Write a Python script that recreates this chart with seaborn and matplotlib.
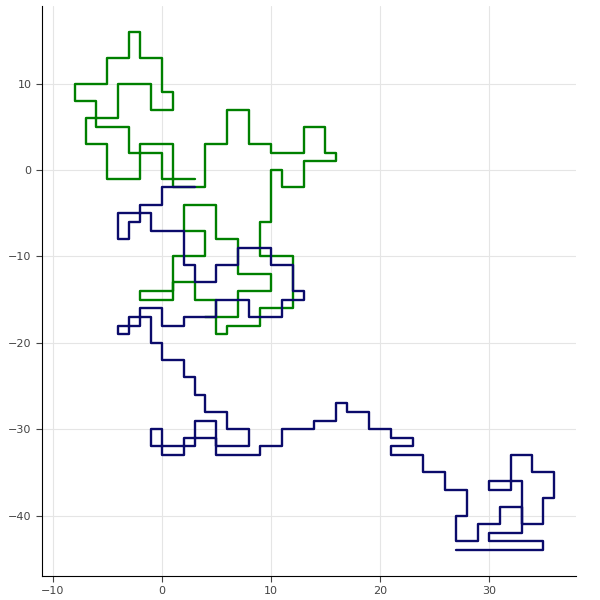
import matplotlib
matplotlib.use("Agg")
import matplotlib.pyplot as plt
import seaborn as sns
import pandas as pd

# lattice random walks (vertices, approximate)
green_x = [3, 0, 0, -3, -3, -6, -6, -8, -8, -5, -5, -3, -3, -2, -2, 0, 0, 1, 1, -1, -1, -4, -4, -7, -7, -5, -5, -2, -2, 1, 1, 4, 4, 6, 6, 8, 8, 10, 10, 13, 13, 15, 15, 16, 16, 13, 13, 11, 11, 10, 10, 9, 9, 12, 12, 9, 9, 6, 6, 5, 5, 3, 3, 1, 1, -2, -2, 1, 1, 4, 4, 2, 2, 5, 5, 7, 7, 10, 10, 7, 7, 4]
green_y = [-1, -1, 2, 2, 5, 5, 8, 8, 10, 10, 13, 13, 16, 16, 13, 13, 9, 9, 7, 7, 10, 10, 6, 6, 3, 3, -1, -1, 3, 3, -2, -2, 3, 3, 7, 7, 3, 3, 2, 2, 5, 5, 2, 2, 1, 1, -2, -2, 0, 0, -6, -6, -10, -10, -16, -16, -18, -18, -19, -19, -15, -15, -13, -13, -15, -15, -14, -14, -10, -10, -7, -7, -4, -4, -8, -8, -12, -12, -14, -14, -17, -17]

blue_x = [3, 0, 0, -2, -2, -3, -3, -4, -4, -1, -1, 2, 2, 3, 3, 5, 5, 7, 7, 10, 10, 12, 12, 13, 13, 11, 11, 8, 8, 5, 5, 2, 2, 0, 0, -2, -2, -4, -4, -3, -3, -1, -1, 0, 0, 2, 2, 3, 3, 4, 4, 6, 6, 8, 8, 5, 5, 2, 2, 0, 0, -1, -1, 3, 3, 5, 5, 9, 9, 11, 11, 14, 14, 16, 16, 17, 17, 19, 19, 21, 21, 23, 23, 21, 21, 24, 24, 26, 26, 28, 28, 27, 27, 29, 29, 31, 31, 33, 33, 35, 35, 36, 36, 34, 34, 32, 32, 30, 30, 33, 33, 30, 30, 35, 35, 27]
blue_y = [-2, -2, -4, -4, -6, -6, -8, -8, -5, -5, -7, -7, -11, -11, -13, -13, -11, -11, -9, -9, -11, -11, -14, -14, -15, -15, -17, -17, -15, -15, -17, -17, -18, -18, -16, -16, -18, -18, -19, -19, -17, -17, -20, -20, -22, -22, -24, -24, -26, -26, -28, -28, -30, -30, -32, -32, -31, -31, -33, -33, -30, -30, -32, -32, -29, -29, -33, -33, -32, -32, -30, -30, -29, -29, -27, -27, -28, -28, -30, -30, -31, -31, -32, -32, -33, -33, -35, -35, -37, -37, -40, -40, -43, -43, -41, -41, -39, -39, -41, -41, -38, -38, -35, -35, -33, -33, -37, -37, -36, -36, -42, -42, -43, -43, -44, -44]

sns.set_style("white")
fig, ax = plt.subplots(figsize=(6, 6), dpi=100)

green = pd.DataFrame({"x": green_x, "y": green_y})
blue = pd.DataFrame({"x": blue_x, "y": blue_y})
sns.lineplot(data=green, x="x", y="y", sort=False, estimator=None, color="green", lw=1.7, ax=ax)
sns.lineplot(data=blue, x="x", y="y", sort=False, estimator=None, color="#0b0b6b", lw=1.7, ax=ax)

ax.set_xlim(-11, 38)
ax.set_ylim(-47, 19)
ax.set_xticks([-10, 0, 10, 20, 30])
ax.set_yticks([-40, -30, -20, -10, 0, 10])
ax.grid(True, color="#e5e5e5", lw=0.8)
ax.set_axisbelow(True)
ax.set_xlabel("")
ax.set_ylabel("")
for s in ["top", "right"]:
    ax.spines[s].set_visible(False)
for s in ["left", "bottom"]:
    ax.spines[s].set_color("black")
ax.tick_params(direction="out", length=4, labelsize=8, colors="#444444", left=True, bottom=True)

plt.subplots_adjust(left=0.07, right=0.96, top=0.99, bottom=0.04)
plt.savefig("out.png")
